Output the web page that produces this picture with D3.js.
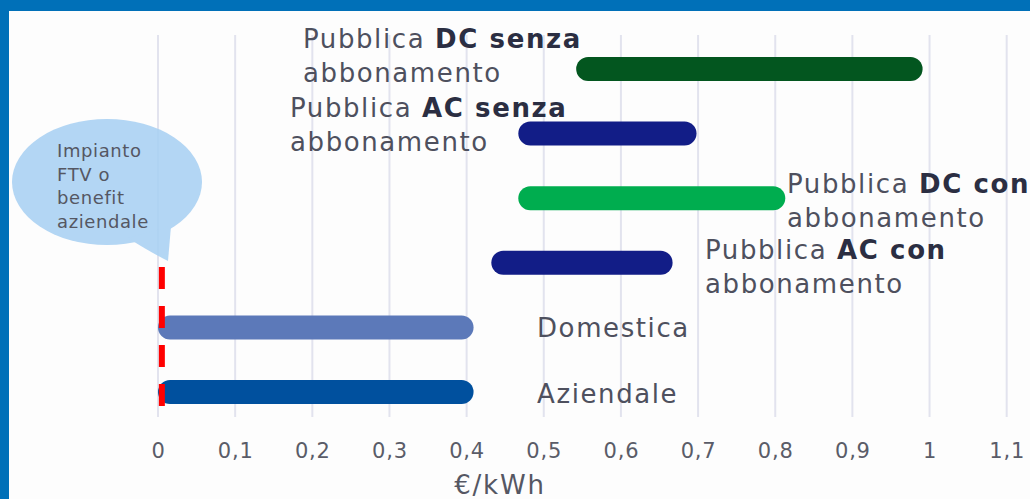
<!DOCTYPE html>
<html><head><meta charset="utf-8">
<script src="https://cdn.jsdelivr.net/npm/d3@7"></script>
<style>
html,body{margin:0;padding:0;background:#fff;}
svg{display:block;}
text{font-family:"DejaVu Sans",sans-serif;}
</style></head>
<body>
<svg id="chart" width="1030" height="499"></svg>
<script>
// ---- data ----
const categories = ["dcSenza","acSenza","dcCon","acCon","domestica","aziendale"];
const startValues = [0.542, 0.467, 0.467, 0.432, 0.0, 0.0];
const endValues   = [0.991, 0.698, 0.813, 0.667, 0.409, 0.409];
const barColors   = ["#03561f","#121d87","#00ad4f","#121d87","#5c79b9","#00509e"];
const labelNormal1 = ["Pubblica ","Pubblica ","Pubblica ","Pubblica ","Domestica","Aziendale"];
const labelBold1   = ["DC senza","AC senza","DC con","AC con","",""];
const labelLine2   = ["abbonamento","abbonamento","abbonamento","abbonamento","",""];
const tickValues = [0,0.1,0.2,0.3,0.4,0.5,0.6,0.7,0.8,0.9,1,1.1];
const tickLabels = ["0","0,1","0,2","0,3","0,4","0,5","0,6","0,7","0,8","0,9","1","1,1"];
const axisTitle = "€/kWh";
const bubbleLines = ["Impianto","FTV o","benefit","aziendale"];
const refValue = 0.005;

const svg = d3.select("#chart");
// background + frame
svg.append("rect").attr("x",0).attr("y",0).attr("width",1030).attr("height",499).attr("fill","#0070b8");
svg.append("rect").attr("x",9).attr("y",11).attr("width",1030).attr("height",499).attr("fill","#fdfdfd");

const x = d3.scaleLinear().domain([0,1.1]).range([158,1006.7]);
const y = d3.scaleBand().domain(categories).range([36.7,424.3]).padding(0);
const barH = 24;

// gridlines
svg.append("g").selectAll("line").data(tickValues).join("line")
  .attr("x1",d=>x(d)).attr("x2",d=>x(d)).attr("y1",35).attr("y2",417)
  .attr("stroke","#e2e3ee").attr("stroke-width",2);

// axis tick labels via d3 axis
const axis = d3.axisBottom(x).tickValues(tickValues).tickFormat((d,i)=>tickLabels[i]).tickSize(0).tickPadding(0);
const ag = svg.append("g").attr("transform","translate(0,443)").call(axis);
ag.select(".domain").remove();
ag.selectAll("text").attr("font-size",21).attr("fill","#5a5c68").attr("font-family","DejaVu Sans").attr("dy","0.72em").attr("letter-spacing",0.8);

svg.append("text").attr("x",500).attr("y",494).attr("text-anchor","middle")
  .attr("font-size",26).attr("fill","#555763").attr("letter-spacing",1.8).text(axisTitle);

// bubble
const bub = svg.append("g").attr("opacity",0.88);
bub.append("ellipse").attr("cx",107).attr("cy",182).attr("rx",95).attr("ry",63).attr("fill","#a9d1f3");
bub.append("path").attr("d","M128,238 Q150,252 168,261 L171,226 Z").attr("fill","#a9d1f3");
svg.append("g").selectAll("text").data(bubbleLines).join("text")
  .attr("x",57).attr("y",(d,i)=>157+i*23.5).attr("font-size",18).attr("fill","#555763")
  .attr("letter-spacing",0.6).text(d=>d);

// bars
svg.append("g").selectAll("rect").data(categories).join("rect")
  .attr("x",(d,i)=>x(startValues[i]))
  .attr("width",(d,i)=>x(endValues[i])-x(startValues[i]))
  .attr("y",d=>y(d)+y.bandwidth()/2-barH/2)
  .attr("height",barH).attr("rx",barH/2).attr("ry",barH/2)
  .attr("fill",(d,i)=>barColors[i]);

// reference red dashed line
svg.append("line").attr("x1",x(refValue)).attr("x2",x(refValue)).attr("y1",267).attr("y2",407)
  .attr("stroke","#ff0000").attr("stroke-width",6).attr("stroke-dasharray","22,17");

// labels
const labelPos = [
  {x:303,y:48},{x:290,y:117},{x:787,y:193},{x:705,y:259},{x:537,y:337},{x:537,y:403}
];
const lg = svg.append("g");
categories.forEach((c,i)=>{
  const t = lg.append("text").attr("x",labelPos[i].x).attr("y",labelPos[i].y)
    .attr("font-size",26).attr("fill","#4e505e").attr("letter-spacing",1.6);
  t.append("tspan").text(labelNormal1[i]);
  if(labelBold1[i]) t.append("tspan").attr("font-weight","bold").attr("fill","#2b2e42").text(labelBold1[i]);
  if(labelLine2[i]){
    lg.append("text").attr("x",labelPos[i].x).attr("y",labelPos[i].y+34)
      .attr("font-size",26).attr("fill","#4e505e").attr("letter-spacing",1.6).text(labelLine2[i]);
  }
});
</script>
</body></html>
